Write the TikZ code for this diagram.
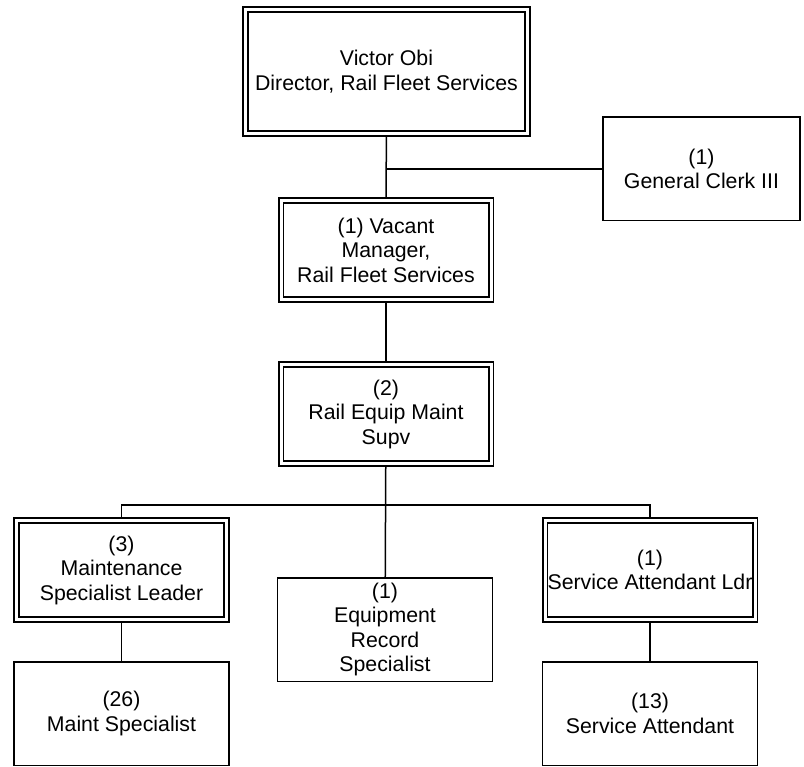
\documentclass[tikz,border=0pt]{standalone}
\usepackage{fontspec}
\setmainfont{Liberation Sans}
\usepackage{tikz}
\usetikzlibrary{positioning, backgrounds}
\tikzstyle{unit} = [draw, rectangle, fill=white, line width=1.5pt, minimum width=215pt, minimum height=103.5pt, align=center, inner sep=1pt]
\tikzstyle{leadunit} = [unit, line width=1.6pt, double=white, double distance=3pt, minimum width=210pt, minimum height=99pt]
\tikzstyle{link} = [line width=1.5pt]

\begin{document}
\begin{tikzpicture}[x=1pt, y=-1pt, every node/.style={font=\fontsize{21.3}{24.5}\selectfont}]
\useasboundingbox (0,0) rectangle (804,767);

% Top of the chart
\node (victor) at (386.5,71.5) [leadunit, minimum width=282pt, minimum height=124pt] {Victor Obi\\Director, Rail Fleet Services};
\node (clerk) at (701.5,169) [unit, minimum width=197pt] {(1)\\General Clerk III};
\node (vacant) at (386,250) [leadunit] {(1) Vacant\\Manager,\\Rail Fleet Services};
\node (equip) at (386,414) [leadunit] {(2)\\Rail Equip Maint\\Supv};

% Second level
\node (maintl) at (121.5,570) [leadunit] {(3)\\Maintenance\\Specialist Leader};
\node (record) at (385,629.5) [unit] {(1)\\Equipment\\Record\\Specialist};
\node (attl) at (650,570) [leadunit] {(1)\\Service Attendant Ldr};

% Staff
\node (maint) at (121.5,713.5) [unit] {(26)\\Maint Specialist};
\node (att) at (650,713.5) [unit] {(13)\\Service Attendant};

% Reporting lines
\coordinate (bus) at (386,505);
\begin{scope}[on background layer]
\draw [link] (victor) -- (vacant);
\draw [link] (clerk) -- (clerk -| victor);
\draw [link] (vacant) -- (equip);
\draw [link] (equip) -- (record);
\draw [link] (maintl) |- (bus) -| (attl);
\draw [link] (maintl) -- (maint);
\draw [link] (attl) -- (att);
\end{scope}

\end{tikzpicture}
\end{document}
